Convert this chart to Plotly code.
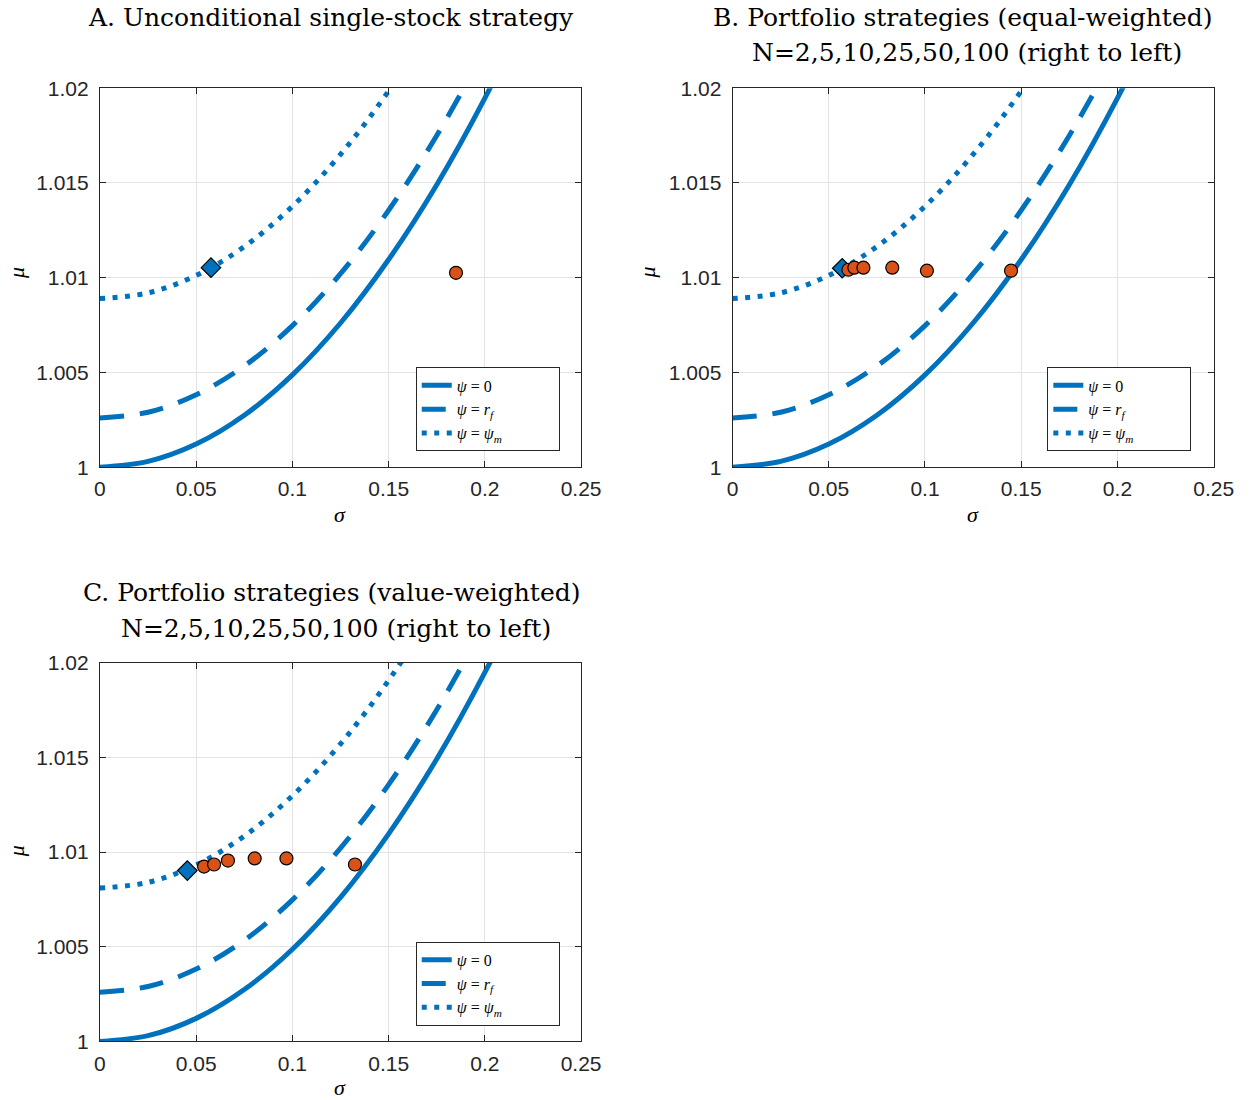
import plotly.graph_objects as go

# ---- data ----
sigma_grid = [0.0, 0.025, 0.05, 0.075, 0.1, 0.125, 0.15, 0.175, 0.2, 0.225]

mu_psi0 = [1.0000, 1.000304, 1.001218, 1.00274, 1.00487, 1.00761, 1.01096, 1.01491, 1.01948, 1.02465]
mu_psirf = [1.0026, 1.0029, 1.00382, 1.00534, 1.00747, 1.01021, 1.01356, 1.01751, 1.02208, 1.02725]
mu_psim_AB = [1.0089, 1.0092, 1.01012, 1.01164, 1.01377, 1.01651, 1.01986, 1.02381, 1.02838, 1.03355]
mu_psim_C = [1.0081, 1.0084, 1.00932, 1.01084, 1.01297, 1.01571, 1.01906, 1.02301, 1.02758, 1.03275]

# Panel A
A_diamond_sigma = [0.0577]
A_diamond_mu = [1.01053]
A_dots_sigma = [0.185]
A_dots_mu = [1.01026]

# Panel B (equal-weighted), N = 100,50,25,10,5,2 (left to right)
B_diamond_sigma = [0.057]
B_diamond_mu = [1.0105]
B_dots_sigma = [0.0602, 0.0633, 0.068, 0.083, 0.101, 0.1447]
B_dots_mu = [1.01042, 1.01053, 1.01053, 1.01053, 1.01037, 1.01037]

# Panel C (value-weighted)
C_diamond_sigma = [0.0454]
C_diamond_mu = [1.00902]
C_dots_sigma = [0.0541, 0.0593, 0.0665, 0.0804, 0.0969, 0.1325]
C_dots_mu = [1.00923, 1.00934, 1.00955, 1.00966, 1.00966, 1.00934]

x_tickvals = [0, 0.05, 0.1, 0.15, 0.2, 0.25]
x_ticktext = ["0", "0.05", "0.1", "0.15", "0.2", "0.25"]
y_tickvals = [1, 1.005, 1.01, 1.015, 1.02]
y_ticktext = ["1", "1.005", "1.01", "1.015", "1.02"]

PAD = "&nbsp;" * 13
legend_labels = ["<i>ψ</i> = 0" + PAD, "<i>ψ</i> = <i>r<sub>f</sub></i>" + PAD,
                 "<i>ψ</i> = <i>ψ<sub>m</sub></i>" + PAD]

BLUE = "#0072BD"
ORANGE = "#D95319"
W, H = 1254, 1100


# map target screen pixels to paper coordinates (compensates the page scaling seen)
def px_x(t):
    return ((t - 3.7) / 0.983) / W


def px_y(t):
    return 1 - ((t - 8.5) / 0.982) / H


panels = [
    dict(name="A", xa="x", ya="y", leg="legend", psim=mu_psim_AB,
         dsig=A_diamond_sigma, dmu=A_diamond_mu, psig=A_dots_sigma, pmu=A_dots_mu,
         xdom=[98, 581], ydom=[85, 465], legpos=(415, 365)),
    dict(name="B", xa="x2", ya="y2", leg="legend2", psim=mu_psim_AB,
         dsig=B_diamond_sigma, dmu=B_diamond_mu, psig=B_dots_sigma, pmu=B_dots_mu,
         xdom=[733, 1216], ydom=[85, 465], legpos=(1049, 365)),
    dict(name="C", xa="x3", ya="y3", leg="legend3", psim=mu_psim_C,
         dsig=C_diamond_sigma, dmu=C_diamond_mu, psig=C_dots_sigma, pmu=C_dots_mu,
         xdom=[98, 581], ydom=[661, 1041], legpos=(415, 941)),
]

fig = go.Figure()
layout = {}
serif = "DejaVu Serif"
sans = "Liberation Sans"

for i, p in enumerate(panels):
    curves = [(mu_psi0, "solid"), (mu_psirf, "24px,16px"), (p["psim"], "5px,7.5px")]
    for lab, (ys, dash) in zip(legend_labels, curves):
        fig.add_trace(go.Scatter(
            x=sigma_grid, y=ys, mode="lines", name=lab,
            line=dict(color=BLUE, width=5, dash=dash, shape="spline"),
            xaxis=p["xa"], yaxis=p["ya"], legend=p["leg"], showlegend=True))
    fig.add_trace(go.Scatter(
        x=p["dsig"], y=p["dmu"], mode="markers",
        marker=dict(symbol="diamond", size=15, color=BLUE, line=dict(color="black", width=1.2)),
        xaxis=p["xa"], yaxis=p["ya"], showlegend=False))
    fig.add_trace(go.Scatter(
        x=p["psig"], y=p["pmu"], mode="markers",
        marker=dict(symbol="circle", size=13, color=ORANGE, line=dict(color="black", width=1.2)),
        xaxis=p["xa"], yaxis=p["ya"], showlegend=False))

    suffix = "" if i == 0 else str(i + 1)
    axcommon = dict(showline=True, mirror="ticks", linecolor="#262626", linewidth=1,
                    ticks="inside", ticklen=6, tickcolor="#262626",
                    showgrid=True, gridcolor="#e3e3e3", gridwidth=1, zeroline=False,
                    tickfont=dict(family=sans, size=21, color="#262626"))
    layout["xaxis" + suffix] = dict(
        domain=[px_x(p["xdom"][0]), px_x(p["xdom"][1])], range=[0, 0.25],
        tickvals=x_tickvals, ticktext=x_ticktext, anchor="y" + suffix,
        ticklabelstandoff=3, **axcommon)
    layout["yaxis" + suffix] = dict(
        domain=[px_y(p["ydom"][1]), px_y(p["ydom"][0])], range=[1, 1.02],
        tickvals=y_tickvals, ticktext=y_ticktext, anchor="x" + suffix,
        ticklabelstandoff=6, **axcommon)
    layout[p["leg"]] = dict(
        x=px_x(p["legpos"][0]), y=px_y(p["legpos"][1]), xanchor="left", yanchor="top",
        bgcolor="white", bordercolor="#262626", borderwidth=1,
        font=dict(family="Liberation Serif", size=16, color="black"), tracegroupgap=0,
        itemwidth=30)

annotations = []
titles = [
    (330, 14, "A. Unconditional single-stock strategy"),
    (964, 14, "B. Portfolio strategies (equal-weighted)"),
    (968, 49, "N=2,5,10,25,50,100 (right to left)"),
    (330, 591, "C. Portfolio strategies (value-weighted)"),
    (335, 627, "N=2,5,10,25,50,100 (right to left)"),
]
for x, y, t in titles:
    annotations.append(dict(x=px_x(x), y=px_y(y), xref="paper", yref="paper", text=t,
                            showarrow=False, xanchor="center", yanchor="middle",
                            font=dict(family=serif, size=25, color="black")))
for cx, cy in [(339, 512), (974, 512), (339, 1087)]:
    annotations.append(dict(x=px_x(cx), y=px_y(cy), xref="paper", yref="paper", text="<i>σ</i>",
                            showarrow=False, xanchor="center", yanchor="middle",
                            font=dict(family="Liberation Serif", size=22, color="black")))
for cx, cy in [(14, 270), (648, 270), (14, 850)]:
    annotations.append(dict(x=px_x(cx), y=px_y(cy), xref="paper", yref="paper", text="<i>μ</i>",
                            showarrow=False, xanchor="center", yanchor="middle", textangle=-90,
                            font=dict(family="Liberation Serif", size=22, color="black")))

fig.update_layout(width=W, height=H, margin=dict(l=0, r=0, t=0, b=0),
                  plot_bgcolor="white", paper_bgcolor="white",
                  annotations=annotations, **layout)

fig.write_html("out.html",
               post_script="document.body.style.margin='0';document.body.style.padding='0';")
